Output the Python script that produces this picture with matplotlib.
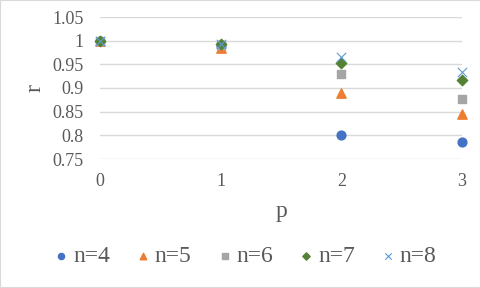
import numpy as np
import matplotlib
matplotlib.use('Agg')
import matplotlib.pyplot as plt

plt.rcParams['font.family'] = ['Liberation Serif', 'DejaVu Serif']

p = [0, 1, 2, 3]
r_n4 = [1.0, 0.988, 0.800, 0.785]
r_n5 = [1.0, 0.985, 0.889, 0.846]
r_n6 = [1.0, 0.990, 0.929, 0.876]
r_n7 = [1.0, 0.992, 0.952, 0.916]
r_n8 = [1.0, 0.994, 0.966, 0.934]
labels = ['n=4', 'n=5', 'n=6', 'n=7', 'n=8']

txt = '#595959'
fig = plt.figure(figsize=(4.81, 2.88), dpi=100)
ax = fig.add_axes([100/481, 1-159/288, 362/481, 142/288])

ax.scatter(p, r_n4, marker='o', s=40, color='#4472C4', label=labels[0], zorder=3)
ax.scatter(p, r_n5, marker='^', s=45, color='#ED7D31', label=labels[1], zorder=3)
ax.scatter(p, r_n6, marker='s', s=38, color='#A5A5A5', label=labels[2], zorder=3)
ax.scatter(p, r_n7, marker='D', s=28, color='#548235', label=labels[3], zorder=3)
ax.scatter(p, r_n8, marker='x', s=45, color='#5B9BD5', linewidths=0.8, label=labels[4], zorder=3)

ax.set_xlim(0, 3)
ax.set_ylim(0.75, 1.05)
ax.set_yticks([0.75, 0.8, 0.85, 0.9, 0.95, 1.0, 1.05])
ax.set_yticklabels(['0.75', '0.8', '0.85', '0.9', '0.95', '1', '1.05'])
ax.set_xticks(p)
ax.grid(axis='y', color='#D9D9D9', linewidth=1)
for s in ax.spines.values():
    s.set_visible(False)
ax.tick_params(length=0, labelsize=13, colors=txt, pad=10)
ax.tick_params(axis='y', pad=12)
for c in ax.collections:
    c.set_clip_on(False)

ax.set_xlabel('p', fontsize=17, color=txt, labelpad=8)
ax.set_ylabel('r', fontsize=17, color=txt, labelpad=5)

fig.legend(loc='lower center', bbox_to_anchor=(0.51, 0.0), ncol=5, frameon=False,
           fontsize=17, labelcolor=txt, handlelength=0.6, handletextpad=0.2,
           columnspacing=1.1, markerscale=0.7)

fig.patches.append(plt.Rectangle((0, 0), 1, 1, transform=fig.transFigure,
                                 fill=False, edgecolor='#D9D9D9', linewidth=1.5))
fig.savefig('out.png', dpi=100)
